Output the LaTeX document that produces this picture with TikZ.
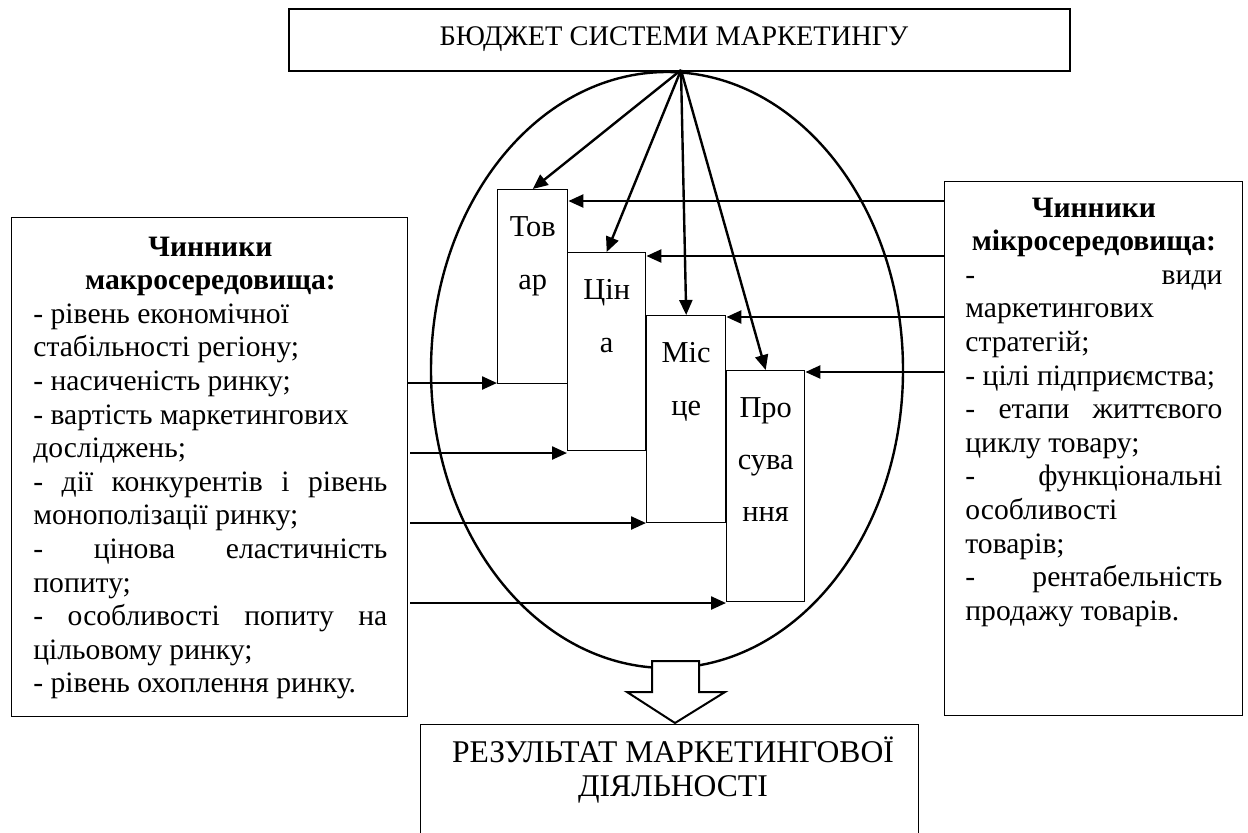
\documentclass[tikz,border=0pt]{standalone}
\usepackage{fontspec}
\setmainfont{Liberation Serif}
\usetikzlibrary{arrows.meta,calc}

\begin{document}
\begin{tikzpicture}[x=0.5pt,y=-0.5pt,
  box/.style={draw, line width=0.7pt, inner sep=0pt, anchor=north west},
  conn/.style={line width=1.2pt, -{Triangle[length=7.5pt,width=6.5pt]}},
  txt/.style={inner sep=0pt, font=\fontsize{14.8}{16.8}\selectfont},
  mixlbl/.style={txt, anchor=base, font=\fontsize{15.2}{16.8}\selectfont},
]
\useasboundingbox (0,0) rectangle (1248,832);
\clip (0,0) rectangle (1248,832);

% the marketing-mix ellipse
\draw[line width=1.2pt] (667,370) ellipse [x radius=236, y radius=298];

% boxes
\node[box, line width=1pt, minimum width=390.5pt, minimum height=31pt] (budget) at (288,8) {};
\node[box, minimum width=198pt, minimum height=249.5pt] (macro) at (11,217) {};
\node[box, minimum width=149pt, minimum height=267pt] (micro) at (944,181) {};
\node[box, minimum width=35pt, minimum height=97pt] (tovar) at (497,189) {};
\node[box, minimum width=39pt, minimum height=99pt] (cina) at (567,252) {};
\node[box, minimum width=39.5pt, minimum height=103.5pt] (misce) at (646,315) {};
\node[box, minimum width=39pt, minimum height=115.5pt] (prosuv) at (726,370) {};
\node[box, minimum width=249pt, minimum height=58pt] (result) at (420,724) {};

% texts
\node[txt, anchor=base, font=\fontsize{14.2}{16.8}\selectfont] (budgettxt) at (674,45)
  {БЮДЖЕТ СИСТЕМИ МАРКЕТИНГУ};

\node[mixlbl] (tovartxt) at ($(tovar.north)+(0,47)$)
  {\parbox[t]{40pt}{\centering\baselineskip=26.5pt Тов\\ар}};
\node[mixlbl] (cinatxt) at ($(cina.north)+(0,47)$)
  {\parbox[t]{40pt}{\centering\baselineskip=26.5pt Цін\\а}};
\node[mixlbl] (miscetxt) at ($(misce.north)+(0,47)$)
  {\parbox[t]{40pt}{\centering\baselineskip=26.5pt Міс\\це}};
\node[mixlbl] (prosuvtxt) at ($(prosuv.north)+(0,47)$)
  {\parbox[t]{40pt}{\centering\baselineskip=26.2pt Про\\сува\\ння}};

\node[txt, anchor=base west] (macrotxt) at (33,256) {\parbox[t]{177pt}{\raggedright
\makebox[\linewidth]{\bfseries Чинники}\\
\makebox[\linewidth]{\bfseries макросередовища:}\\
- рівень економічної\\
стабільності регіону;\\
- насиченість ринку;\\
- вартість маркетингових\\
досліджень;\\
- \hfill дії \hfill конкурентів \hfill і \hfill рівень\\
монополізації ринку;\\
- \hfill цінова \hfill еластичність\\
попиту;\\
- \hfill особливості \hfill попиту \hfill на\\
цільовому ринку;\\
- рівень охоплення ринку.}};

\node[txt, anchor=base west] (microtxt) at (965,217) {\parbox[t]{128.5pt}{\raggedright
\makebox[\linewidth]{\bfseries Чинники}\\
\makebox[\linewidth]{\bfseries мікросередовища:}\\
- \hfill види\\
маркетингових\\
стратегій;\\
- цілі підприємства;\\
- \hfill етапи \hfill життєвого\\
циклу товару;\\
- \hfill функціональні\\
особливості\\
товарів;\\
- \hfill рентабельність\\
продажу товарів.}};

\node[txt, anchor=base, font=\fontsize{15.8}{17}\selectfont] (resulttxt) at (673,762)
  {\parbox[t]{249pt}{\centering РЕЗУЛЬТАТ МАРКЕТИНГОВОЇ\\ДІЯЛЬНОСТІ}};

% budget arrows
\coordinate (apex) at (681,70);
\draw[conn] (apex) -- (tovar.north);
\draw[conn] (apex) -- (cina.north);
\draw[conn] (apex) -- (misce.north);
\draw[conn] (apex) -- (prosuv.north);

% micro-environment arrows
\coordinate (r1) at (944,201);
\coordinate (r2) at (944,256);
\coordinate (r3) at (944,317);
\coordinate (r4) at (944,372);
\draw[conn] (r1) -- (r1 -| tovar.east);
\draw[conn] (r2) -- (r2 -| cina.east);
\draw[conn] (r3) -- (r3 -| misce.east);
\draw[conn] (r4) -- (r4 -| prosuv.east);

% macro-environment arrows
\coordinate (l1) at (407,383);
\coordinate (l2) at (410,453);
\coordinate (l3) at (410,523);
\coordinate (l4) at (410,603);
\draw[conn] (l1) -- (l1 -| tovar.west);
\draw[conn] (l2) -- (l2 -| cina.west);
\draw[conn] (l3) -- (l3 -| misce.west);
\draw[conn] (l4) -- (l4 -| prosuv.west);

% outlined block arrow to the result
\draw[line width=1pt, fill=white] (652,661) -- (699,661) -- (699,692) -- (725,692)
  -- (675,723) -- (627,692) -- (652,692) -- cycle;
\end{tikzpicture}
\end{document}
